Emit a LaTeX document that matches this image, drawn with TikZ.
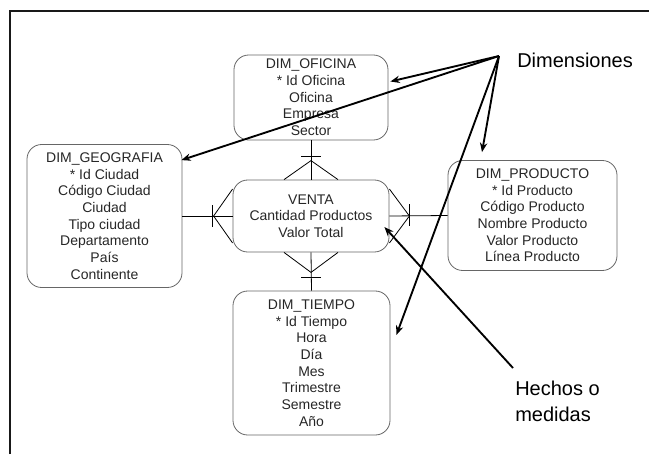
\documentclass[tikz,border=0pt]{standalone}
\usepackage{fontspec}
\setmainfont{Liberation Sans}
\usetikzlibrary{arrows.meta,calc}
\begin{document}
\begin{tikzpicture}[x=0.75pt,y=-0.75pt,
  entity/.style={draw=black!60, line width=0.6pt, rounded corners=11pt,
    align=center, inner sep=0pt, text=black!85,
    font=\fontsize{10.5}{12.5}\selectfont},
  rel/.style={line width=0.6pt},
  pointer/.style={line width=1.4pt, -{Stealth[length=7pt,width=5.5pt]}},
  callout/.style={font=\fontsize{15}{19.5}\selectfont, align=left,
    anchor=west, inner sep=0pt}
]
\useasboundingbox (0,0) rectangle (649,454);
% page frame (top and left edges)
\draw[line width=1.9pt, black!90] (10,454) -- (10,11) -- (649,11);

% dimension and fact tables
\node[entity, minimum width=115.5pt, minimum height=63.75pt] (ofi) at (311,97.5)
  {DIM\_OFICINA\\* Id Oficina\\Oficina\\Empresa\\Sector};
\node[entity, minimum width=116.25pt, minimum height=107.25pt] (geo) at (104.5,216)
  {DIM\_GEOGRAFIA\\* Id Ciudad\\Código Ciudad\\Ciudad\\Tipo ciudad\\Departamento\\País\\Continente};
\node[entity, minimum width=117pt, minimum height=54pt] (venta) at (311,216)
  {VENTA\\Cantidad Productos\\Valor Total};
\node[entity, minimum width=126.75pt, minimum height=82.5pt] (prod) at (532.5,215.5)
  {DIM\_PRODUCTO\\* Id Producto\\Código Producto\\Nombre Producto\\Valor Producto\\Línea Producto};
\node[entity, minimum width=117.75pt, minimum height=108pt] (tiempo) at (311.5,363)
  {DIM\_TIEMPO\\* Id Tiempo\\Hora\\Día\\Mes\\Trimestre\\Semestre\\Año};

% one-to-many relations, crow's foot on VENTA
\draw[rel] (ofi.south) -- (venta.north);
\draw[rel] ($(venta.north)+(-10,-23)$) -- ($(venta.north)+(10,-23)$);
\draw[rel] ($(venta.north)+(-27,0)$) -- ($(venta.north)+(0,-19)$) -- ($(venta.north)+(27,0)$);

\draw[rel] (geo.east) -- (venta.west);
\draw[rel] ($(venta.west)+(-20,-11)$) -- ($(venta.west)+(-20,11)$);
\draw[rel] ($(venta.west)+(0,-27)$) -- ($(venta.west)+(-19,0)$) -- ($(venta.west)+(0,27)$);

\draw[rel] (venta.east) -- (prod.west);
\draw[rel] ($(venta.east)+(20,-12)$) -- ($(venta.east)+(20,10)$);
\draw[rel] ($(venta.east)+(0,-27)$) -- ($(venta.east)+(20,0)$) -- ($(venta.east)+(0,27)$);

\draw[rel] (venta.south) -- (tiempo.north);
\draw[rel] ($(venta.south)+(-10,25)$) -- ($(venta.south)+(10,25)$);
\draw[rel] ($(venta.south)+(-27,0)$) -- ($(venta.south)+(0,20)$) -- ($(venta.south)+(27,0)$);

% callouts
\node[callout] (dimlbl) at (517,60) {Dimensiones};
\node[callout] (hechos) at (515,401) {Hechos o\\medidas};
\coordinate (dimsrc) at (499,56);
\coordinate (hechsrc) at (513,368);

\coordinate (tipofi) at ($(ofi.east)+(2,-16)$);
\coordinate (tipgeo) at ($(geo.north east)+(-1,16)$);
\coordinate (tipprod) at ($(prod.north)+(-50.5,-8)$);
\coordinate (tiptiempo) at ($(tiempo.east)+(6,-28)$);
\coordinate (tipventa) at ($(venta.east)+(-5,11)$);

\draw[pointer] (dimsrc) -- (tipofi);
\draw[pointer] (dimsrc) -- (tipgeo);
\draw[pointer] (dimsrc) -- (tipprod);
\draw[pointer] (dimsrc) -- (tiptiempo);
\draw[pointer] (hechsrc) -- (tipventa);
\end{tikzpicture}
\end{document}
